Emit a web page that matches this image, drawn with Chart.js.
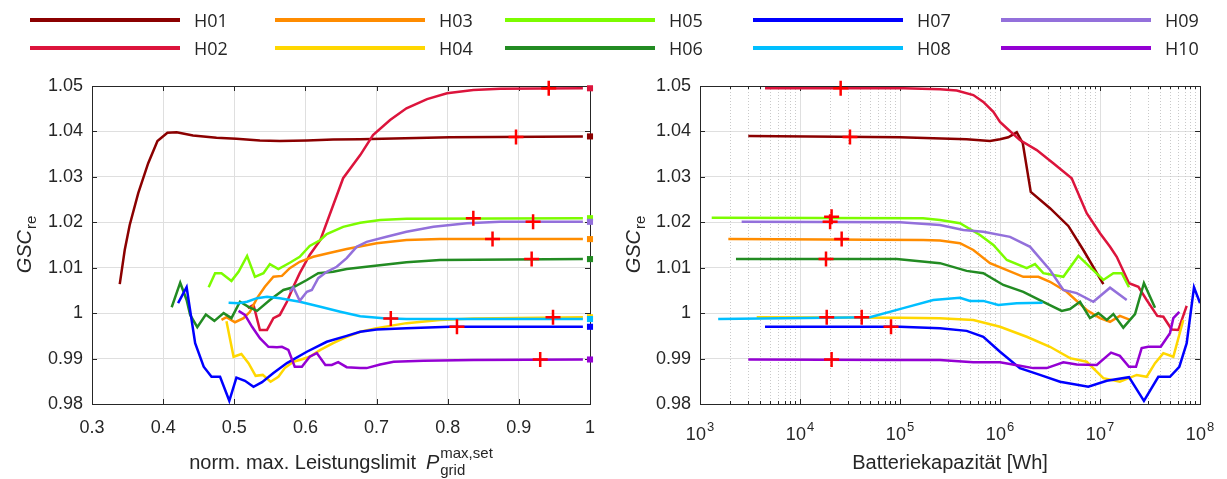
<!DOCTYPE html>
<html>
<head>
<meta charset="utf-8">
<title>GSC re</title>
<script src="https://cdn.jsdelivr.net/npm/chart.js@4.4.1/dist/chart.umd.min.js"></script>
<style>
  body { margin: 0; background: #ffffff; }
  #page { position: relative; width: 1227px; height: 479px; overflow: hidden; background: #ffffff; }
  #page canvas { position: absolute; top: 0; }
  .legend-line { position: absolute; width: 150px; height: 4px; }
  .legend-text { position: absolute; font-family: 'Open Sans', sans-serif; font-size: 18px; line-height: 24px; color: #262626; }
</style>
</head>
<body>
<div id="page">
  <canvas id="leftChart" width="613" height="479" style="left:0px"></canvas>
  <canvas id="rightChart" width="614" height="479" style="left:613px"></canvas>
  <div id="legend"></div>
</div>
<script>
// series
const seriesNames = ['H01', 'H02', 'H03', 'H04', 'H05', 'H06', 'H07', 'H08', 'H09', 'H10'];
const seriesColors = ['#8B0000', '#DC143C', '#FF8C00', '#FFD700', '#7CFC00', '#228B22', '#0000FF', '#00BFFF', '#9370DB', '#9400D3'];

// tick labels
const leftXTickValues = [0.3, 0.4, 0.5, 0.6, 0.7, 0.8, 0.9, 1];
const leftXTickLabels = ['0.3', '0.4', '0.5', '0.6', '0.7', '0.8', '0.9', '1'];
const yTickValues = [0.98, 0.99, 1, 1.01, 1.02, 1.03, 1.04, 1.05];
const yTickLabels = ['0.98', '0.99', '1', '1.01', '1.02', '1.03', '1.04', '1.05'];
const rightXTickValues = [1e3, 1e4, 1e5, 1e6, 1e7, 1e8];
const rightXTickExponents = ['3', '4', '5', '6', '7', '8'];

// left chart: GSC_re vs. norm. max. power limit [x, y]
const leftH01 = [[0.339,1.0064],[0.346,1.0139],[0.353,1.0194],[0.365,1.0264],[0.379,1.0330],[0.392,1.0379],[0.406,1.0397],[0.419,1.0398],[0.442,1.0391],[0.475,1.0386],[0.503,1.0384],[0.536,1.0380],[0.564,1.0379],[0.602,1.0380],[0.639,1.0382],[0.677,1.0383],[0.803,1.0387],[0.99,1.0389]];
const leftH02 = [[0.519,1.0011],[0.527,1.0018],[0.536,0.9963],[0.546,0.9963],[0.555,0.9989],[0.564,0.9996],[0.574,1.0025],[0.583,1.0058],[0.592,1.0088],[0.606,1.0128],[0.621,1.0161],[0.653,1.0297],[0.677,1.0348],[0.695,1.0392],[0.719,1.0425],[0.742,1.0451],[0.771,1.0471],[0.799,1.0484],[0.836,1.0491],[0.874,1.0494],[0.99,1.0495]];
const leftH03 = [[0.482,0.9985],[0.489,0.9991],[0.501,0.9980],[0.513,0.9989],[0.522,1.0003],[0.532,1.0033],[0.543,1.0058],[0.555,1.0080],[0.567,1.0082],[0.578,1.0099],[0.592,1.0113],[0.611,1.0124],[0.635,1.0133],[0.658,1.0141],[0.700,1.0154],[0.742,1.0161],[0.789,1.0163],[0.99,1.0163]];
const leftH04 = [[0.489,0.9982],[0.499,0.9904],[0.510,0.9910],[0.520,0.9890],[0.530,0.9862],[0.540,0.9864],[0.551,0.9849],[0.562,0.9860],[0.571,0.9879],[0.583,0.9893],[0.592,0.9897],[0.606,0.9904],[0.621,0.9919],[0.639,0.9934],[0.658,0.9948],[0.677,0.9959],[0.700,0.9967],[0.742,0.9978],[0.789,0.9985],[0.836,0.9988],[0.99,0.9991]];
const leftH05 = [[0.464,1.0057],[0.473,1.0088],[0.482,1.0088],[0.496,1.0071],[0.506,1.0091],[0.518,1.0126],[0.529,1.0080],[0.541,1.0088],[0.550,1.0108],[0.562,1.0097],[0.578,1.0111],[0.592,1.0124],[0.606,1.0148],[0.621,1.0161],[0.630,1.0174],[0.653,1.0190],[0.677,1.0199],[0.705,1.0205],[0.742,1.0208],[0.99,1.0209]];
const leftH06 = [[0.412,1.0013],[0.424,1.0067],[0.433,1.0029],[0.438,0.9996],[0.448,0.9969],[0.460,0.9997],[0.472,0.9983],[0.485,1.0000],[0.496,0.9989],[0.508,1.0025],[0.520,1.0014],[0.532,1.0005],[0.550,1.0029],[0.569,1.0051],[0.583,1.0057],[0.602,1.0073],[0.618,1.0088],[0.639,1.0091],[0.658,1.0097],[0.695,1.0104],[0.742,1.0112],[0.789,1.0117],[0.99,1.0119]];
const leftH07 = [[0.421,1.0022],[0.433,1.0057],[0.445,0.9934],[0.457,0.9882],[0.468,0.9860],[0.480,0.9860],[0.493,0.9807],[0.503,0.9858],[0.515,0.9851],[0.527,0.9838],[0.539,0.9848],[0.555,0.9868],[0.574,0.9890],[0.602,0.9915],[0.630,0.9937],[0.658,0.9950],[0.677,0.9959],[0.700,0.9964],[0.742,0.9967],[0.803,0.9970],[0.99,0.9970]];
const leftH08 = [[0.492,1.0023],[0.506,1.0022],[0.518,1.0025],[0.532,1.0033],[0.546,1.0036],[0.564,1.0033],[0.592,1.0025],[0.621,1.0014],[0.649,1.0003],[0.677,0.9993],[0.710,0.9989],[0.742,0.9987],[0.99,0.9987]];
const leftH09 = [[0.578,1.0047],[0.583,1.0057],[0.592,1.0027],[0.602,1.0047],[0.609,1.0051],[0.618,1.0077],[0.630,1.0091],[0.644,1.0102],[0.658,1.0121],[0.672,1.0146],[0.686,1.0157],[0.714,1.0168],[0.742,1.0179],[0.780,1.0190],[0.827,1.0198],[0.874,1.0201],[0.99,1.0201]];
const leftH10 = [[0.506,1.0005],[0.515,0.9996],[0.525,0.9970],[0.536,0.9945],[0.548,0.9926],[0.560,0.9925],[0.567,0.9926],[0.576,0.9919],[0.585,0.9882],[0.595,0.9882],[0.606,0.9904],[0.616,0.9912],[0.628,0.9886],[0.637,0.9886],[0.646,0.9892],[0.658,0.9881],[0.677,0.9879],[0.686,0.9879],[0.705,0.9887],[0.724,0.9893],[0.766,0.9895],[0.836,0.9897],[0.99,0.9898]];
const leftMarkers = [[0.896,1.0388],[0.942,1.0495],[0.863,1.0163],[0.948,0.9991],[0.836,1.0209],[0.918,1.0119],[0.813,0.9970],[0.720,0.9988],[0.920,1.0201],[0.930,0.9898]];
const leftEndValues = [1.0389, 1.0495, 1.0163, 0.9991, 1.0209, 1.0119, 0.9970, 0.9987, 1.0201, 0.9898];

// right chart: GSC_re vs. battery capacity in Wh [x, y]
const rightH01 = [[3040,1.0390],[1e5,1.0387],[4.64e5,1.0383],[7.94e5,1.0379],[1e6,1.0383],[1.21e6,1.0387],[1.47e6,1.0398],[1.69e6,1.0374],[2.03e6,1.0267],[3.16e6,1.0231],[4.82e6,1.0192],[6.81e6,1.0139],[1.08e7,1.0064]];
const rightH02 = [[4470,1.0495],[1.08e5,1.0495],[2.51e5,1.0493],[3.69e5,1.0490],[5.41e5,1.0480],[6.81e5,1.0465],[8.58e5,1.0443],[1e6,1.0421],[1.17e6,1.0407],[1.58e6,1.0381],[2.33e6,1.0359],[3.41e6,1.0330],[5.21e6,1.0297],[7.36e6,1.0220],[1e7,1.0176],[1.26e7,1.0146],[1.47e7,1.0124],[1.95e7,1.0066],[2.42e7,1.0058],[2.93e7,1.0029],[3.74e7,0.9994],[4.30e7,0.9992],[5.21e7,0.9964],[6.07e7,0.9963],[7.36e7,1.0016]];
const rightH03 = [[1920,1.0163],[1.70e5,1.0161],[2.51e5,1.0160],[3.98e5,1.0154],[5.41e5,1.0139],[7.94e5,1.0110],[1.71e6,1.0080],[2.42e6,1.0080],[3.16e6,1.0069],[4.64e6,1.0047],[7.36e6,1.0007],[1e7,0.9989],[1.26e7,0.9981],[1.58e7,0.9994],[2.0e7,0.9985]];
const rightH04 = [[3690,0.9991],[1e5,0.9990],[2.51e5,0.9989],[5.41e5,0.9985],[1e6,0.9970],[1.85e6,0.9948],[3.16e6,0.9926],[5.01e6,0.9901],[7.36e6,0.9893],[1.08e7,0.9857],[1.58e7,0.9849],[2.33e7,0.9864],[2.93e7,0.9860],[3.55e7,0.9890],[4.30e7,0.9912],[5.41e7,0.9904],[6.81e7,0.9985]];
const rightH05 = [[1310,1.0210],[1.70e5,1.0209],[2.51e5,1.0205],[3.98e5,1.0198],[6.31e5,1.0172],[8.58e5,1.0150],[1.17e6,1.0117],[1.85e6,1.0099],[2.24e6,1.0108],[2.71e6,1.0088],[4.30e6,1.0080],[6.07e6,1.0126],[1.08e7,1.0073],[1.36e7,1.0088],[1.65e7,1.0088],[1.95e7,1.0057]];
const rightH06 = [[2290,1.0119],[9.27e4,1.0119],[2.51e5,1.0110],[4.64e5,1.0093],[6.81e5,1.0088],[1.08e6,1.0062],[1.71e6,1.0047],[2.71e6,1.0025],[4.14e6,1.0005],[5.01e6,1.0009],[6.31e6,1.0025],[7.94e6,0.9989],[9.62e6,1.0000],[1.17e7,0.9985],[1.36e7,0.9998],[1.71e7,0.9968],[2.24e7,0.9998],[2.75e7,1.0066],[3.55e7,1.0012]];
const rightH07 = [[4470,0.9970],[1e5,0.9970],[2.51e5,0.9967],[4.64e5,0.9961],[6.81e5,0.9948],[1e6,0.9915],[1.58e6,0.9879],[2.51e6,0.9864],[3.98e6,0.9849],[7.64e6,0.9838],[1.17e7,0.9851],[1.95e7,0.9859],[2.75e7,0.9807],[3.83e7,0.9860],[5.01e7,0.9860],[6.21e7,0.9882],[7.36e7,0.9934],[8.71e7,1.0057],[1e8,1.0022]];
const rightH08 = [[1520,0.9987],[5.01e4,0.9991],[1.08e5,1.0011],[2.15e5,1.0029],[3.98e5,1.0034],[5.01e5,1.0027],[6.81e5,1.0027],[9.62e5,1.0018],[1.47e6,1.0022],[2.67e6,1.0023]];
const rightH09 = [[2610,1.0201],[1e5,1.0200],[2.51e5,1.0194],[4.30e5,1.0183],[6.81e5,1.0179],[1.26e6,1.0168],[2.0e6,1.0146],[3.16e6,1.0095],[4.30e6,1.0051],[5.85e6,1.0044],[8.58e6,1.0025],[1.26e7,1.0056],[1.85e7,1.0029]];
const rightH10 = [[3040,0.9898],[1e5,0.9897],[2.51e5,0.9897],[5.41e5,0.9892],[1e6,0.9892],[1.58e6,0.9884],[2.15e6,0.9879],[2.93e6,0.9879],[4.30e6,0.9892],[5.85e6,0.9887],[9.27e6,0.9886],[1.29e7,0.9913],[1.58e7,0.9906],[1.95e7,0.9882],[2.29e7,0.9882],[2.61e7,0.9923],[3.04e7,0.9926],[4.05e7,0.9926],[5.01e7,0.9956],[5.41e7,0.9989],[6.21e7,1.0003]];
const rightMarkers = [[3.16e4,1.0388],[2.55e4,1.0495],[2.61e4,1.0163],[1.85e4,0.9991],[2.07e4,1.0212],[1.82e4,1.0119],[8.13e4,0.9970],[4.14e4,0.9991],[2.0e4,1.0201],[2.07e4,0.9898]];

const leftLines = [leftH01, leftH02, leftH03, leftH04, leftH05, leftH06, leftH07, leftH08, leftH09, leftH10];
const rightLines = [rightH01, rightH02, rightH03, rightH04, rightH05, rightH06, rightH07, rightH08, rightH09, rightH10];

const textColor = '#262626';
const fontFamily = '"Liberation Sans", Arial, sans-serif';
const tickFont = { family: fontFamily, size: 18 };

// legend (5 columns, 2 rows, column-major like the MATLAB legend)
const legendCols = [30, 275, 505, 753, 1001];
const legendRows = [20, 48];
const legendBox = document.getElementById('legend');
seriesNames.forEach((name, i) => {
  const col = Math.floor(i / 2);
  const row = i % 2;
  const line = document.createElement('div');
  line.className = 'legend-line';
  line.style.left = legendCols[col] + 'px';
  line.style.top = (legendRows[row] - 2) + 'px';
  line.style.background = seriesColors[i];
  legendBox.appendChild(line);
  const text = document.createElement('div');
  text.className = 'legend-text';
  text.style.left = (legendCols[col] + 164) + 'px';
  text.style.top = (legendRows[row] - 12) + 'px';
  text.textContent = name;
  legendBox.appendChild(text);
});

// build datasets: lines, end squares, red crosses
function buildDatasets(lines, markers, endValues) {
  const sets = lines.map((pts, i) => ({
    label: seriesNames[i],
    data: pts.map(([x, y]) => ({ x, y })),
    borderColor: seriesColors[i],
    backgroundColor: seriesColors[i],
    borderWidth: 2.5,
    pointRadius: 0,
    showLine: true,
    tension: 0,
    order: 20 - i
  }));
  if (endValues) {
    sets.push({
      label: 'end',
      data: endValues.map(y => ({ x: 1, y })),
      pointStyle: 'rect',
      pointRadius: 4.3,
      pointBackgroundColor: seriesColors,
      pointBorderWidth: 0,
      showLine: false,
      clip: false,
      order: 5
    });
  }
  sets.push({
    label: 'marker',
    data: markers.map(([x, y]) => ({ x, y })),
    pointStyle: 'cross',
    pointRadius: 7.5,
    pointBorderColor: '#FF0000',
    pointBorderWidth: 2.5,
    showLine: false,
    clip: false,
    order: 0
  });
  return sets;
}

function isDecade(v) {
  const l = Math.log10(v);
  return Math.abs(l - Math.round(l)) < 1e-9;
}

// frame, inward ticks and dotted minor grid
const boxPlugin = {
  id: 'box',
  beforeDatasetsDraw(chart) {
    const { ctx, chartArea: a } = chart;
    const xs = chart.scales.x;
    const ys = chart.scales.y;
    ctx.save();
    ctx.lineWidth = 1;
    ctx.strokeStyle = '#c9c9c9';
    ctx.setLineDash([1, 2]);
    xs.ticks.forEach(t => {
      if (t.major !== false) return;
      const px = Math.round(xs.getPixelForValue(t.value)) + 0.5;
      ctx.beginPath();
      ctx.moveTo(px, a.top);
      ctx.lineTo(px, a.bottom);
      ctx.stroke();
    });
    ctx.setLineDash([]);
    ctx.strokeStyle = textColor;
    xs.ticks.forEach(t => {
      const px = Math.round(xs.getPixelForValue(t.value)) + 0.5;
      const len = t.major === false ? 3 : 5;
      ctx.beginPath();
      ctx.moveTo(px, a.bottom);
      ctx.lineTo(px, a.bottom - len);
      ctx.moveTo(px, a.top);
      ctx.lineTo(px, a.top + len);
      ctx.stroke();
    });
    ys.ticks.forEach(t => {
      const py = Math.round(ys.getPixelForValue(t.value)) + 0.5;
      ctx.beginPath();
      ctx.moveTo(a.left, py);
      ctx.lineTo(a.left + 5, py);
      ctx.moveTo(a.right, py);
      ctx.lineTo(a.right - 5, py);
      ctx.stroke();
    });
    ctx.strokeRect(a.left + 0.5, a.top + 0.5, a.right - a.left, a.bottom - a.top);
    ctx.restore();
  }
};

// rotated y title: GSC_re
function drawYTitle(ctx, x, y) {
  ctx.save();
  ctx.translate(x, y);
  ctx.rotate(-Math.PI / 2);
  ctx.fillStyle = textColor;
  ctx.textBaseline = 'alphabetic';
  ctx.font = 'italic 20px ' + fontFamily;
  const w1 = ctx.measureText('GSC').width;
  ctx.font = '15px ' + fontFamily;
  const w2 = ctx.measureText('re').width;
  const sx = -(w1 + w2) / 2;
  ctx.font = 'italic 20px ' + fontFamily;
  ctx.fillText('GSC', sx, 0);
  ctx.font = '15px ' + fontFamily;
  ctx.fillText('re', sx + w1 + 1, 5);
  ctx.restore();
}

const leftTitlePlugin = {
  id: 'leftTitles',
  afterDraw(chart) {
    const { ctx, chartArea: a } = chart;
    drawYTitle(ctx, 31, (a.top + a.bottom) / 2);
    ctx.save();
    ctx.fillStyle = textColor;
    ctx.textBaseline = 'alphabetic';
    const main = 'norm. max. Leistungslimit';
    ctx.font = '20px ' + fontFamily;
    const wMain = ctx.measureText(main).width + 10;
    ctx.font = 'italic 20px ' + fontFamily;
    const wP = ctx.measureText('P').width;
    ctx.font = '15px ' + fontFamily;
    const wScript = Math.max(ctx.measureText('max,set').width, ctx.measureText('grid').width);
    let x = (a.left + a.right) / 2 - (wMain + wP + 1 + wScript) / 2;
    const base = 469;
    ctx.font = '20px ' + fontFamily;
    ctx.fillText(main, x, base);
    x += wMain;
    ctx.font = 'italic 20px ' + fontFamily;
    ctx.fillText('P', x, base);
    x += wP + 1;
    ctx.font = '15px ' + fontFamily;
    ctx.fillText('max,set', x, base - 11);
    ctx.fillText('grid', x, base + 6);
    ctx.restore();
  }
};

const rightTitlePlugin = {
  id: 'rightTitles',
  afterDraw(chart) {
    const { ctx, chartArea: a } = chart;
    const xs = chart.scales.x;
    drawYTitle(ctx, 27, (a.top + a.bottom) / 2);
    ctx.save();
    ctx.fillStyle = textColor;
    ctx.textBaseline = 'alphabetic';
    // decade labels 10^n
    rightXTickValues.forEach((v, i) => {
      const px = xs.getPixelForValue(v);
      ctx.font = '18px ' + fontFamily;
      const wBase = ctx.measureText('10').width;
      ctx.font = '13px ' + fontFamily;
      const wExp = ctx.measureText(rightXTickExponents[i]).width;
      const x0 = px - (wBase + wExp + 1) / 2;
      ctx.font = '18px ' + fontFamily;
      ctx.fillText('10', x0, 440);
      ctx.font = '13px ' + fontFamily;
      ctx.fillText(rightXTickExponents[i], x0 + wBase + 1, 431);
    });
    ctx.font = '20px ' + fontFamily;
    ctx.textAlign = 'center';
    ctx.fillText('Batteriekapazität [Wh]', (a.left + a.right) / 2, 469);
    ctx.restore();
  }
};

function yScaleConfig(width) {
  return {
    type: 'linear',
    min: 0.98,
    max: 1.05,
    afterBuildTicks: s => { s.ticks = yTickValues.map(v => ({ value: v })); },
    afterFit: s => { s.width = width; },
    ticks: { callback: (v, i) => yTickLabels[i], font: tickFont, color: textColor, padding: 9, autoSkip: false },
    grid: { color: '#dfdfdf', drawTicks: false },
    border: { display: false }
  };
}

// left chart
new Chart(document.getElementById('leftChart'), {
  type: 'scatter',
  data: { datasets: buildDatasets(leftLines, leftMarkers, leftEndValues) },
  options: {
    responsive: false,
    animation: false,
    devicePixelRatio: 1,
    events: [],
    layout: { padding: { left: 0, top: 86, right: 23, bottom: 0 } },
    plugins: { legend: { display: false }, tooltip: { enabled: false } },
    scales: {
      x: {
        type: 'linear',
        min: 0.3,
        max: 1,
        afterBuildTicks: s => { s.ticks = leftXTickValues.map(v => ({ value: v })); },
        afterFit: s => { s.height = 75; },
        ticks: { callback: (v, i) => leftXTickLabels[i], font: tickFont, color: textColor, padding: 13, autoSkip: false, maxRotation: 0 },
        grid: { color: '#dfdfdf', drawTicks: false },
        border: { display: false }
      },
      y: yScaleConfig(92)
    }
  },
  plugins: [boxPlugin, leftTitlePlugin]
});

// right chart
new Chart(document.getElementById('rightChart'), {
  type: 'scatter',
  data: { datasets: buildDatasets(rightLines, rightMarkers, null) },
  options: {
    responsive: false,
    animation: false,
    devicePixelRatio: 1,
    events: [],
    layout: { padding: { left: 0, top: 86, right: 27, bottom: 0 } },
    plugins: { legend: { display: false }, tooltip: { enabled: false } },
    scales: {
      x: {
        type: 'logarithmic',
        min: 1e3,
        max: 1e8,
        afterBuildTicks: s => {
          const ticks = [];
          for (let e = 3; e < 8; e++) {
            for (let m = 1; m < 10; m++) {
              const v = m * Math.pow(10, e);
              ticks.push({ value: v, major: m === 1 });
            }
          }
          ticks.push({ value: 1e8, major: true });
          s.ticks = ticks;
        },
        afterFit: s => { s.height = 75; },
        ticks: { display: false },
        grid: { color: ctx => (ctx.tick && isDecade(ctx.tick.value)) ? '#dfdfdf' : 'rgba(0,0,0,0)', drawTicks: false },
        border: { display: false }
      },
      y: yScaleConfig(87)
    }
  },
  plugins: [boxPlugin, rightTitlePlugin]
});
</script>
</body>
</html>
